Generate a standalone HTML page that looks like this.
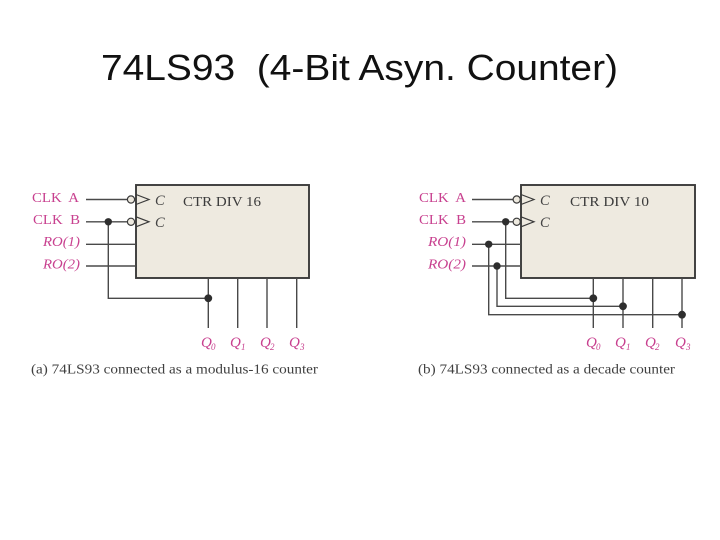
<!DOCTYPE html>
<html><head><meta charset="utf-8"><style>
html,body{margin:0;padding:0;background:#fff}
svg{display:block}
.m{font:italic 14px "Liberation Serif",serif;fill:#c8418f}
.k{font:14px "Liberation Serif",serif;fill:#c8418f}
.t{font:14px "Liberation Serif",serif;fill:#3a3a3a}
.c{font:italic 14.5px "Liberation Serif",serif;fill:#444}
.cap{font:13.6px "Liberation Serif",serif;fill:#3f3f3f}
.q{font:italic 15px "Liberation Serif",serif;fill:#c8418f}
.s{font:italic 9px "Liberation Serif",serif;fill:#c8418f}
.l{stroke:#4a4a4a;stroke-width:1.4;fill:none}
.b{fill:#eeeae0;stroke:#3a3a3a;stroke-width:1.9}
.o{fill:#eeeae0;stroke:#3a3a3a;stroke-width:1.2}
.g{fill:none;stroke:#3a3a3a;stroke-width:1.2}
.d{fill:#2e2e2e}
</style></head><body>
<svg width="720" height="540" viewBox="0 0 720 540" xmlns="http://www.w3.org/2000/svg">
<defs><filter id="soft" filterUnits="userSpaceOnUse" x="0" y="150" width="720" height="250"><feGaussianBlur stdDeviation="0.35"/></filter></defs>
<rect width="720" height="540" fill="#fff"/>
<text x="101" y="80" font-family="Liberation Sans, sans-serif" font-size="36" fill="#111" textLength="517" lengthAdjust="spacingAndGlyphs" xml:space="preserve">74LS93  (4-Bit Asyn. Counter)</text>

<g filter="url(#soft)">
<!-- (a) -->
<rect class="b" x="136" y="185" width="173" height="93"/>
<path class="l" d="M86 199.5H127M86 221.8H127M86 244.3H136M86 266H136M208.3 278V328M237.7 278V328M267 278V328M296.7 278V328M108.3 221.8V298.3H208.3"/>
<circle class="o" cx="131" cy="199.5" r="3.6"/><circle class="o" cx="131" cy="221.8" r="3.6"/>
<path class="g" d="M136 194.5L149 199.5L136 204.5M136 216.8L149 221.8L136 226.8"/>
<circle class="d" cx="108.3" cy="221.8" r="3.7"/><circle class="d" cx="208.3" cy="298.3" r="3.9"/>
<text class="k" x="32" y="202" textLength="47" lengthAdjust="spacingAndGlyphs" xml:space="preserve">CLK  A</text>
<text class="k" x="33" y="224" textLength="47" lengthAdjust="spacingAndGlyphs" xml:space="preserve">CLK  B</text>
<text class="m" x="43" y="246" textLength="37" lengthAdjust="spacingAndGlyphs">RO(1)</text>
<text class="m" x="43" y="268.5" textLength="37" lengthAdjust="spacingAndGlyphs">RO(2)</text>
<text class="c" x="155" y="205">C</text><text class="c" x="155" y="227">C</text>
<text class="t" x="183" y="206" textLength="78" lengthAdjust="spacingAndGlyphs">CTR DIV 16</text>
<text class="q" x="201" y="347">Q</text><text class="s" x="211" y="350">0</text>
<text class="q" x="230" y="347">Q</text><text class="s" x="241" y="350">1</text>
<text class="q" x="260" y="347">Q</text><text class="s" x="270" y="350">2</text>
<text class="q" x="289" y="347">Q</text><text class="s" x="300" y="350">3</text>
<text class="cap" x="31" y="373.5" textLength="287" lengthAdjust="spacingAndGlyphs">(a) 74LS93 connected as a modulus-16 counter</text>

<!-- (b) -->
<rect class="b" x="521" y="185" width="174" height="93"/>
<path class="l" d="M472 199.5H513M472 221.8H513M472 244.3H521M472 266H521M593.3 278V328M623 278V328M652.7 278V328M682 278V328M505.7 221.8V298.3H593.3M497 266V306.3H623M488.7 244.3V314.7H682"/>
<circle class="o" cx="516.7" cy="199.5" r="3.6"/><circle class="o" cx="516.7" cy="221.8" r="3.6"/>
<path class="g" d="M521 194.5L534 199.5L521 204.5M521 216.8L534 221.8L521 226.8"/>
<circle class="d" cx="505.7" cy="221.8" r="3.7"/><circle class="d" cx="488.7" cy="244.3" r="3.7"/><circle class="d" cx="497" cy="266" r="3.7"/>
<circle class="d" cx="593.3" cy="298.3" r="3.9"/><circle class="d" cx="623" cy="306.3" r="3.9"/><circle class="d" cx="682" cy="314.7" r="3.9"/>
<text class="k" x="419" y="202" textLength="47" lengthAdjust="spacingAndGlyphs" xml:space="preserve">CLK  A</text>
<text class="k" x="419" y="224" textLength="47" lengthAdjust="spacingAndGlyphs" xml:space="preserve">CLK  B</text>
<text class="m" x="428" y="246" textLength="38" lengthAdjust="spacingAndGlyphs">RO(1)</text>
<text class="m" x="428" y="268.5" textLength="38" lengthAdjust="spacingAndGlyphs">RO(2)</text>
<text class="c" x="540" y="205">C</text><text class="c" x="540" y="227">C</text>
<text class="t" x="570" y="206" textLength="79" lengthAdjust="spacingAndGlyphs">CTR DIV 10</text>
<text class="q" x="586" y="347">Q</text><text class="s" x="596" y="350">0</text>
<text class="q" x="615" y="347">Q</text><text class="s" x="626" y="350">1</text>
<text class="q" x="645" y="347">Q</text><text class="s" x="655" y="350">2</text>
<text class="q" x="675" y="347">Q</text><text class="s" x="686" y="350">3</text>
<text class="cap" x="418" y="373.5" textLength="257" lengthAdjust="spacingAndGlyphs">(b) 74LS93 connected as a decade counter</text>
</g>
</svg>
</body></html>
